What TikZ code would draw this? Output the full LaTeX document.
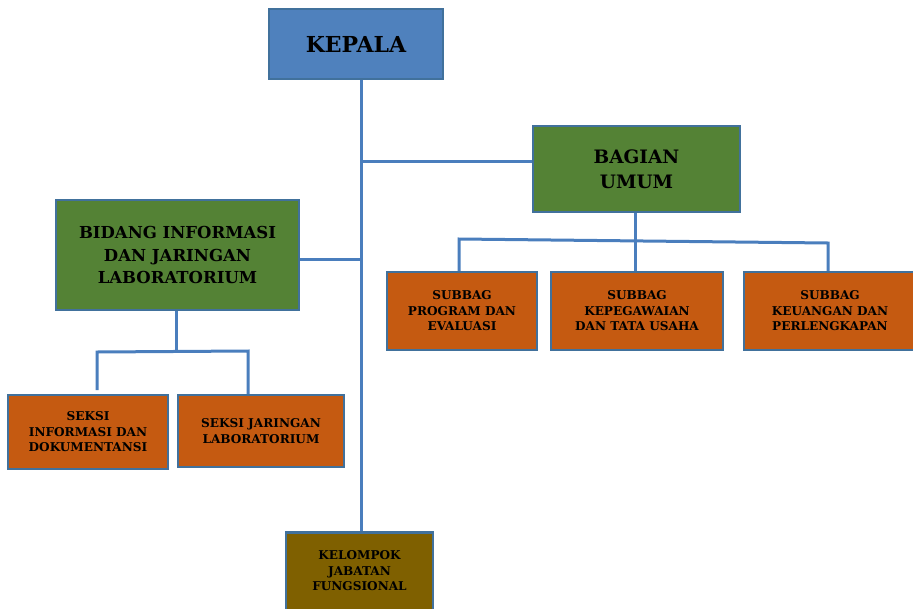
\documentclass[tikz,border=0pt]{standalone}
\usepackage{fontspec}
\setmainfont{DejaVu Serif}
\usetikzlibrary{calc}
\definecolor{kblue}{HTML}{4F81BD}
\definecolor{kborder}{HTML}{41719C}
\definecolor{kline}{HTML}{4A7EBD}
\definecolor{kgreen}{HTML}{548235}
\definecolor{korange}{HTML}{C55A11}
\definecolor{kbrown}{HTML}{7F6000}
\tikzset{
  box/.style={draw=kborder, line width=2.5pt, align=center, inner sep=0pt, font=\bfseries, text=black},
  bluebox/.style={box, fill=kblue},
  greenbox/.style={box, fill=kgreen},
  orangebox/.style={box, fill=korange, font=\bfseries\fontsize{12.1}{15.5}\selectfont},
  brownbox/.style={box, fill=kbrown},
  conn/.style={draw=kline, line width=3pt}
}
\begin{document}
\begin{tikzpicture}[x=1pt,y=-1pt]
\useasboundingbox (0,0) rectangle (913,608);
\clip (0,0) rectangle (913,608);
% connectors first (under boxes)
\coordinate (s0) at (361,78);
\coordinate (s1) at (361,161);
\coordinate (s2) at (361,259);
\coordinate (s3) at (361,531);
\coordinate (b0) at (299,259);
\coordinate (g0) at (533,161);
\coordinate (gu) at (635,211);
\coordinate (gl) at (459,239);
\coordinate (gr) at (828,243);
\coordinate (gl2) at (459,271);
\coordinate (gm2) at (635,271);
\coordinate (gr2) at (828,271);
\coordinate (bu) at (176,309);
\coordinate (bj) at (176,352);
\coordinate (bl) at (97,352);
\coordinate (br) at (248,351);
\coordinate (bl2) at (97,390);
\coordinate (br2) at (248,394);
\draw[conn] (s0) -- (s3);
\draw[conn] (s1) -- (g0);
\draw[conn] (b0) -- (s2);
\draw[conn] (gu) -- (gm2);
\draw[conn] (gl2) -- (gl) -- (gr) -- (gr2);
\draw[conn] (bu) -- (bj);
\draw[conn] (bl2) -- (bl) -- (br) -- (br2);
% boxes
\node[bluebox, minimum width=174pt, minimum height=70pt, font=\bfseries\fontsize{22}{26}\selectfont] (kepala) at (356,44) {KEPALA};
\node[greenbox, minimum width=207pt, minimum height=86pt, font=\bfseries\fontsize{18.5}{25}\selectfont] (bagian) at (636.5,169) {BAGIAN\\UMUM};
\node[greenbox, minimum width=243pt, minimum height=110pt, font=\bfseries\fontsize{16.5}{22.5}\selectfont] (bidang) at (177.5,255) {BIDANG INFORMASI\\DAN JARINGAN\\LABORATORIUM};
\node[orangebox, minimum width=150pt, minimum height=78pt] (sub1) at (462,311) {SUBBAG\\PROGRAM DAN\\EVALUASI};
\node[orangebox, minimum width=172pt, minimum height=78pt] (sub2) at (637,311) {SUBBAG\\KEPEGAWAIAN\\DAN TATA USAHA};
\node[orangebox, minimum width=172pt, minimum height=78pt] (sub3) at (830,311) {SUBBAG\\KEUANGAN DAN\\PERLENGKAPAN};
\node[orangebox, minimum width=160pt, minimum height=74pt] (seksi1) at (88,432) {SEKSI\\INFORMASI DAN\\DOKUMENTANSI};
\node[orangebox, minimum width=166pt, minimum height=72pt] (seksi2) at (261,431) {SEKSI JARINGAN\\LABORATORIUM};
\node[brownbox, minimum width=147pt, minimum height=82pt, anchor=north] (kel) at (359.5,531) {};
\node[font=\bfseries\fontsize{12.1}{15.5}\selectfont, align=center, inner sep=0pt] (keltext) at (359.5,571) {KELOMPOK\\JABATAN\\FUNGSIONAL};
\end{tikzpicture}
\end{document}
